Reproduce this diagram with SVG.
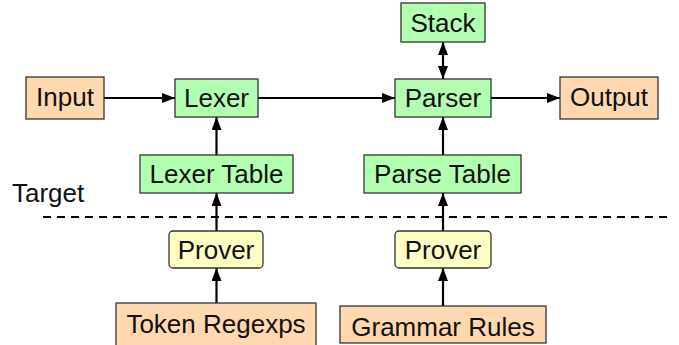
<svg xmlns="http://www.w3.org/2000/svg" width="679" height="345" viewBox="0 0 679 345">
  <style>
    .box { stroke: #333; stroke-width: 1.3; }
    .io { fill: #ffd8b0; }
    .stage { fill: #b2ffb2; }
    .prover { fill: #ffffc4; }
    .lbl { font-family: "Liberation Sans", Arial, Helvetica, sans-serif; font-size: 26px; fill: #111; text-anchor: middle; }
    .edge { stroke: #000; stroke-width: 2.2; fill: none; }
  </style>
  <defs>
    <marker id="arrow" viewBox="0 0 13 10" refX="13" refY="5" markerWidth="13" markerHeight="10" markerUnits="userSpaceOnUse" orient="auto-start-reverse">
      <path d="M0,0 L13,5 L0,10 Z" fill="#000"/>
    </marker>
  </defs>
  <rect width="679" height="345" fill="#fff"/>

  <!-- Target boundary -->
  <text class="lbl" x="12" y="202" style="text-anchor:start">Target</text>
  <line x1="43" y1="217" x2="672" y2="217" stroke="#000" stroke-width="2" stroke-dasharray="8 6"/>

  <g id="connectors">
    <line class="edge" x1="104" y1="98" x2="175" y2="98" marker-end="url(#arrow)"/>
    <line class="edge" x1="258" y1="98" x2="395" y2="98" marker-end="url(#arrow)"/>
    <line class="edge" x1="491" y1="98" x2="560" y2="98" marker-end="url(#arrow)"/>
    <line class="edge" x1="443" y1="42" x2="443" y2="79" marker-start="url(#arrow)" marker-end="url(#arrow)"/>
    <line class="edge" x1="216.5" y1="155" x2="216.5" y2="117" marker-end="url(#arrow)"/>
    <line class="edge" x1="216.5" y1="231" x2="216.5" y2="193" marker-end="url(#arrow)"/>
    <line class="edge" x1="216.5" y1="303" x2="216.5" y2="268" marker-end="url(#arrow)"/>
    <line class="edge" x1="443" y1="155" x2="443" y2="117" marker-end="url(#arrow)"/>
    <line class="edge" x1="443" y1="231" x2="443" y2="193" marker-end="url(#arrow)"/>
    <line class="edge" x1="443" y1="306" x2="443" y2="268" marker-end="url(#arrow)"/>
  </g>

  <g id="input">
    <rect class="box io" x="26" y="77" width="78" height="42"/>
    <text class="lbl" x="65" y="106">Input</text>
  </g>
  <g id="lexer">
    <rect class="box stage" x="175" y="79" width="83" height="38"/>
    <text class="lbl" x="216.5" y="107">Lexer</text>
  </g>
  <g id="stack">
    <rect class="box stage" x="401" y="3" width="84" height="39"/>
    <text class="lbl" x="443" y="32">Stack</text>
  </g>
  <g id="parser">
    <rect class="box stage" x="395" y="79" width="96" height="38"/>
    <text class="lbl" x="443" y="107">Parser</text>
  </g>
  <g id="output">
    <rect class="box io" x="560" y="77" width="98" height="42"/>
    <text class="lbl" x="609" y="106">Output</text>
  </g>
  <g id="lexer-table">
    <rect class="box stage" x="140" y="155" width="153" height="38"/>
    <text class="lbl" x="216.5" y="183">Lexer Table</text>
  </g>
  <g id="parse-table">
    <rect class="box stage" x="364" y="155" width="157" height="38"/>
    <text class="lbl" x="442.5" y="183">Parse Table</text>
  </g>
  <g id="lexer-prover">
    <rect class="box prover" x="169" y="231" width="94" height="37" rx="4"/>
    <text class="lbl" x="216" y="259">Prover</text>
  </g>
  <g id="parser-prover">
    <rect class="box prover" x="395" y="231" width="96" height="37" rx="4"/>
    <text class="lbl" x="443" y="259">Prover</text>
  </g>
  <g id="token-regexps">
    <rect class="box io" x="116" y="303" width="200" height="45"/>
    <text class="lbl" x="216" y="333">Token Regexps</text>
  </g>
  <g id="grammar-rules">
    <rect class="box io" x="340" y="306" width="206" height="37"/>
    <text class="lbl" x="443" y="336">Grammar Rules</text>
  </g>
</svg>
